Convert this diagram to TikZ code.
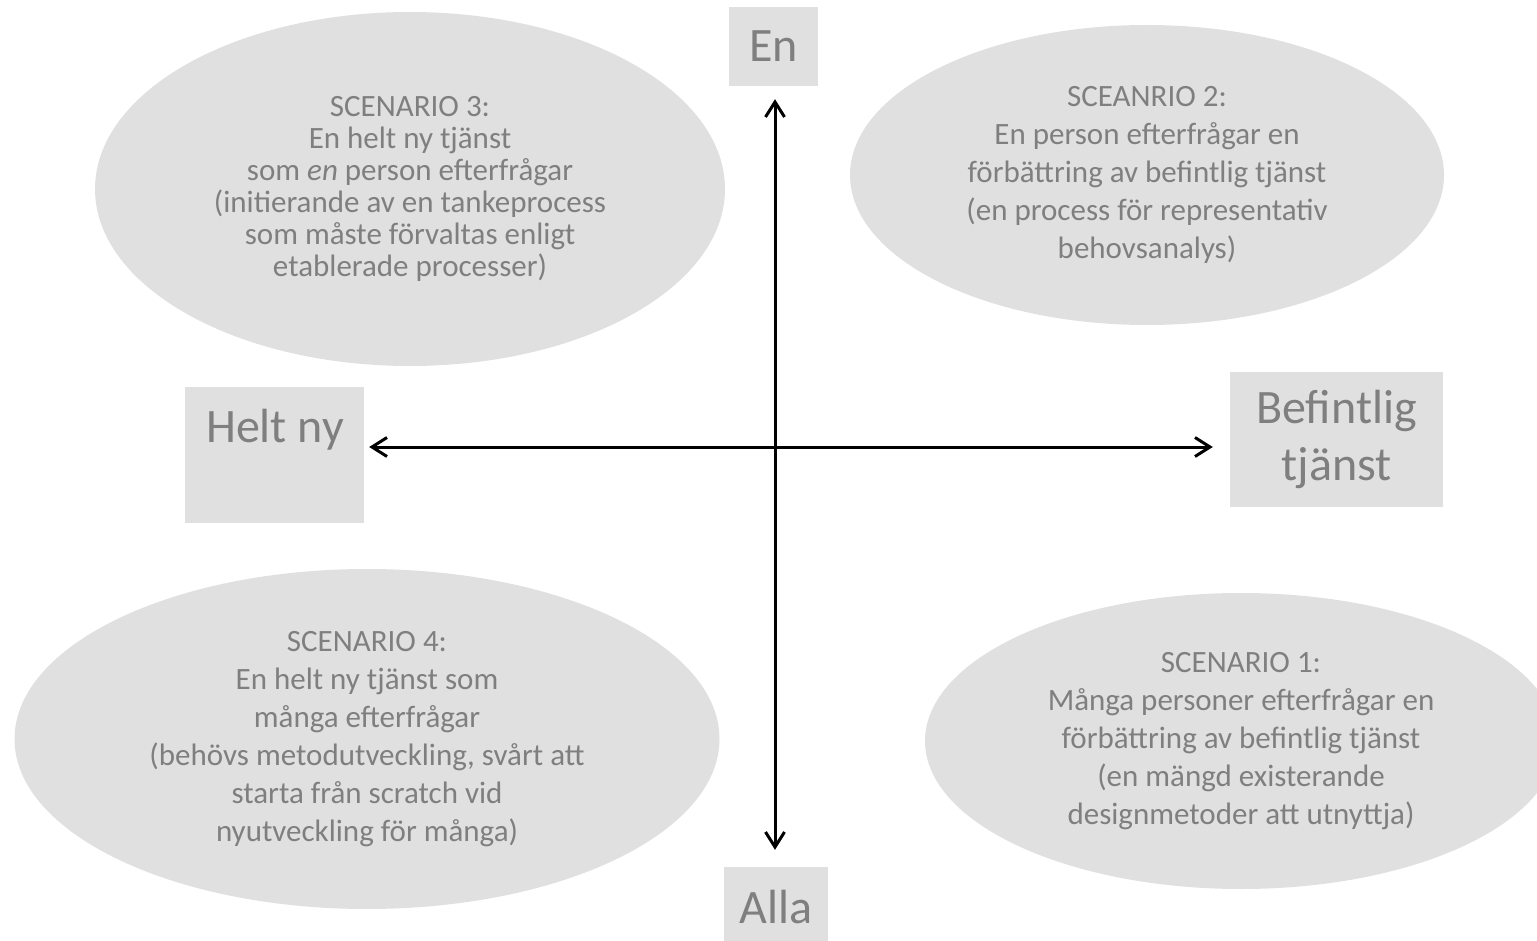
\documentclass[tikz,border=0pt]{standalone}
\usepackage{fontspec}
\setmainfont{Carlito}
\usetikzlibrary{arrows.meta,shapes.geometric}
\definecolor{boxgray}{HTML}{E0E0E0}
\definecolor{txtgray}{HTML}{7F7F7F}

\begin{document}
\begin{tikzpicture}[x=1pt, y=-1pt,
    scen/.style={ellipse, fill=boxgray, inner sep=0pt, text=txtgray, align=center,
                 font=\fontsize{31}{38}\selectfont},
    axbox/.style={rectangle, fill=boxgray, inner sep=0pt, text=txtgray, align=center,
                  font=\fontsize{48}{57}\selectfont},
    axis/.style={{Straight Barb[length=15pt,width=19pt]}-{Straight Barb[length=15pt,width=19pt]},
                 line width=3pt}]
    \useasboundingbox (0,0) rectangle (1537,941);

    % Nodes
    \node[scen, font=\fontsize{31}{32}\selectfont, minimum width=630pt, minimum height=354pt] (s3) at (410,189)
        {SCENARIO 3:\\En helt ny tjänst\\som \textit{en} person efterfrågar\\(initierande av en tankeprocess\\som måste förvaltas enligt\\etablerade processer)};
    \node[scen, minimum width=594pt, minimum height=300pt] (s2) at (1147,175)
        {SCEANRIO 2:\\En person efterfrågar en\\förbättring av befintlig tjänst\\(en process för representativ\\behovsanalys)};
    \node[scen, minimum width=705pt, minimum height=340pt] (s4) at (367,739)
        {SCENARIO 4:\\En helt ny tjänst som\\många efterfrågar\\(behövs metodutveckling, svårt att\\starta från scratch vid\\nyutveckling för många)};
    \node[scen, minimum width=632pt, minimum height=296pt] (s1) at (1241,741)
        {SCENARIO 1:\\Många personer efterfrågar en\\förbättring av befintlig tjänst\\(en mängd existerande\\designmetoder att utnyttja)};

    \node[axbox, minimum width=89pt, minimum height=79pt] (en) at (773.5,46.5) {En};
    \node[axbox, minimum width=179pt, minimum height=136pt] (nybox) at (274.5,455) {};
    \node[axbox, fill=none, anchor=base] (ny) at (275,442) {Helt ny};
    \node[axbox, minimum width=213pt, minimum height=135pt] (bef) at (1336.5,439.5) {Befintlig\\tjänst};
    \node[axbox, minimum width=104pt, minimum height=80pt] (alla) at (776,907) {Alla};

    \coordinate (o) at (775,447);

    % Edges
    \draw[axis, shorten <=13pt, shorten >=17pt] (o |- en.south) -- (o |- alla.north);   % En -- Alla
    \draw[axis, shorten <=5pt, shorten >=17pt] (o -| nybox.east) -- (o -| bef.west);   % Helt ny -- Befintlig
\end{tikzpicture}
\end{document}
